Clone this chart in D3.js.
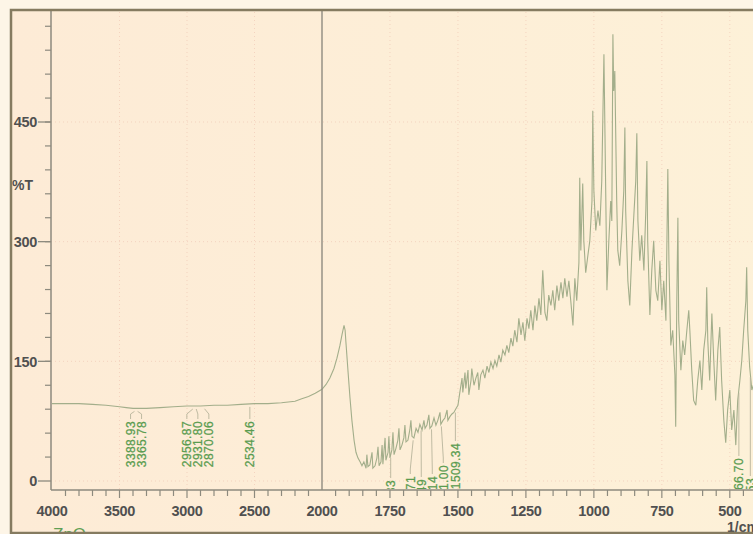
<!DOCTYPE html>
<html>
<head>
<meta charset="utf-8">
<script src="https://cdn.jsdelivr.net/npm/d3@7"></script>
<style>
  body { margin: 0; background: #fdf5e7; }
  svg { display: block; font-family: "Liberation Sans", Arial, sans-serif; }
</style>
</head>
<body>
<div id="chart"></div>
<script>
// FTIR spectrum of ZnO
// wavenumber (1/cm) and %T, same order
var wavenumber = [
  4000, 3900, 3800, 3700, 3600, 3500, 3450, 3400, 3350, 3300, 3200, 3100, 3000, 2900, 2800,
  2700, 2600, 2500, 2400, 2300, 2250, 2200, 2150, 2100, 2050, 2000,
  1985, 1971, 1956, 1945, 1934, 1926, 1919, 1915, 1912, 1904, 1897, 1890, 1882, 1875, 1868,
  1860, 1853, 1846, 1838, 1835, 1831, 1824, 1816, 1813, 1805, 1798, 1794, 1790, 1783, 1779,
  1776, 1768, 1765, 1757, 1754, 1750, 1743, 1739, 1735, 1728, 1721, 1717, 1713, 1706, 1699,
  1695, 1691, 1684, 1677, 1673, 1669, 1662, 1654, 1647, 1640, 1632, 1625, 1621, 1614, 1607,
  1603, 1596, 1588, 1581, 1574, 1566, 1563, 1555, 1548, 1540, 1537, 1529, 1522, 1515, 1507,
  1500, 1493, 1485, 1482, 1474, 1471, 1463, 1460, 1452, 1449, 1441, 1434, 1427, 1423, 1416,
  1408, 1401, 1393, 1386, 1379, 1371, 1364, 1357, 1349, 1342, 1335, 1327, 1320, 1313, 1305,
  1298, 1291, 1283, 1276, 1268, 1261, 1254, 1246, 1239, 1232, 1224, 1217, 1210, 1202, 1195,
  1188, 1180, 1173, 1166, 1158, 1151, 1144, 1136, 1129, 1121, 1114, 1107, 1099, 1092, 1085,
  1077, 1070, 1063, 1055, 1052, 1048, 1041, 1037, 1030, 1022, 1015, 1007, 1004, 1000, 993,
  985, 978, 971, 963, 956, 952, 945, 938, 934, 930, 927, 923, 916, 912, 905,
  897, 890, 886, 883, 875, 868, 860, 853, 846, 842, 838, 831, 824, 816, 809,
  805, 802, 794, 787, 780, 772, 765, 757, 750, 743, 735, 728, 724, 717, 710,
  702, 699, 695, 691, 688, 680, 673, 666, 658, 651, 647, 640, 633, 625, 618,
  610, 603, 596, 588, 585, 581, 574, 566, 559, 552, 544, 537, 530, 522, 515,
  508, 500, 493, 485, 478, 471, 463, 456, 449, 441, 438, 434, 427, 419, 408, 401
];
var transmittance = [
  97, 97, 97, 96, 95, 93, 92, 91, 91, 91, 92, 93, 94, 94, 95,
  95, 96, 97, 97, 98, 99, 100, 103, 106, 110, 115,
  121, 129, 141, 154, 170, 184, 195, 189, 174, 136, 104, 76, 51, 36, 29,
  24, 19, 24, 16, 33, 18, 20, 36, 16, 19, 29, 43, 19, 24, 45,
  21, 54, 26, 36, 56, 29, 39, 61, 33, 41, 51, 66, 39, 45, 54,
  70, 49, 51, 64, 76, 56, 54, 66, 61, 71, 64, 76, 66, 70, 83,
  66, 69, 79, 70, 76, 86, 71, 76, 79, 89, 76, 81, 84, 86, 91,
  95, 111, 129, 111, 136, 116, 139, 108, 126, 141, 120, 129, 136, 114, 133,
  139, 129, 144, 136, 149, 141, 151, 144, 158, 149, 164, 158, 170, 161, 179,
  169, 189, 174, 204, 183, 199, 176, 204, 191, 214, 189, 220, 201, 229, 208,
  264, 211, 201, 233, 220, 239, 214, 245, 226, 249, 229, 254, 231, 251, 226,
  195, 254, 226, 274, 380, 289, 373, 301, 261, 283, 301, 351, 464, 364, 314,
  339, 320, 376, 535, 351, 239, 301, 351, 326, 560, 489, 514, 351, 289, 270,
  314, 364, 443, 339, 251, 220, 289, 333, 376, 436, 326, 276, 308, 264, 339,
  401, 301, 208, 264, 301, 239, 226, 276, 214, 251, 201, 391, 276, 170, 189,
  133, 68, 226, 330, 201, 139, 176, 158, 189, 214, 189, 139, 101, 95, 126,
  151, 114, 164, 189, 243, 176, 126, 210, 151, 101, 164, 193, 126, 76, 48,
  89, 114, 64, 89, 45, 101, 126, 151, 189, 226, 268, 189, 143, 114, 126, 101
];
var peakLabels = [
  "3388.93", "3365.78", "2956.87", "2931.80", "2870.06", "2534.46",
  "1747.33", "1664.71", "1635.49", "1597.14", "1561.00", "1509.34",
  "466.70", "424.53"
];
var xTickValues = [4000, 3500, 3000, 2500, 2000, 1750, 1500, 1250, 1000, 750, 500];
var yTickValues = [0, 150, 300, 450];

var width = 753, height = 534;
var frame = { left: 11, top: 10, bottom: 533 };
var axisX = 51, axisY = 490;

var svg = d3.select("#chart").append("svg")
  .attr("width", width)
  .attr("height", height);

var defs = svg.append("defs");
var grad = defs.append("linearGradient").attr("id", "paper");
grad.append("stop").attr("offset", "0%").attr("stop-color", "#fdebd6");
grad.append("stop").attr("offset", "100%").attr("stop-color", "#fdf1d8");
defs.append("clipPath").attr("id", "plotClip")
  .append("rect")
  .attr("x", axisX + 1).attr("y", frame.top)
  .attr("width", width - axisX).attr("height", axisY - frame.top - 1);

// split axis: 4000-2000 compressed, 2000-400 expanded
var x = d3.scaleLinear()
  .domain([4000, 2000, 400])
  .range([52, 322, 757]);
var y = d3.scaleLinear()
  .domain([0, 450])
  .range([481, 122]);

svg.append("rect")
  .attr("x", frame.left).attr("y", frame.top)
  .attr("width", width + 20).attr("height", frame.bottom - frame.top)
  .attr("fill", "url(#paper)");

// faint dotted grid
var grid = svg.append("g")
  .attr("stroke", "#f1c9b6")
  .attr("stroke-dasharray", "1,3")
  .attr("stroke-width", 1)
  .attr("opacity", 0.7);
grid.selectAll("line.h")
  .data(yTickValues)
  .enter().append("line")
  .attr("x1", axisX).attr("x2", width)
  .attr("y1", d => y(d)).attr("y2", d => y(d));
grid.selectAll("line.v")
  .data(xTickValues.filter(d => d != 4000 && d != 2000))
  .enter().append("line")
  .attr("x1", d => x(d)).attr("x2", d => x(d))
  .attr("y1", frame.top + 2).attr("y2", axisY);

// spectrum
var spectrum = wavenumber.map((w, i) => [w, transmittance[i]]);
var line = d3.line().x(d => x(d[0])).y(d => y(d[1]));
var plot = svg.append("g").attr("clip-path", "url(#plotClip)");
plot.append("path")
  .datum(spectrum)
  .attr("fill", "none")
  .attr("stroke", "#a3ae8b")
  .attr("stroke-width", 1.1)
  .attr("d", line);

// value of spectrum at a wavenumber (linear between read points)
function valueAt(w) {
  for (var i = 1; i < spectrum.length; i++) {
    if (spectrum[i][0] <= w) {
      var a = spectrum[i - 1], b = spectrum[i];
      var t = (a[0] - w) / (a[0] - b[0]);
      return a[1] + t * (b[1] - a[1]);
    }
  }
  return spectrum[spectrum.length - 1][1];
}

// push crowded labels apart
function spread(xs, gap) {
  var p = xs.slice();
  for (var k = 0; k < 60; k++) {
    for (var i = 1; i < p.length; i++) {
      if (p[i] - p[i - 1] < gap) {
        var m = (p[i] + p[i - 1]) / 2;
        p[i - 1] = m - gap / 2;
        p[i] = m + gap / 2;
      }
    }
  }
  return p;
}

var labelTop = {
  "1747.33": 480, "1664.71": 476, "1635.49": 479, "1597.14": 476,
  "1561.00": 465, "1509.34": 443, "466.70": 458, "424.53": 478
};
var peaks = peakLabels.map(s => ({ text: s, w: +s }));
var px = spread(peaks.map(d => x(d.w)), 11);
peaks.forEach((d, i) => {
  d.lx = px[i];
  d.top = labelTop[d.text] || 421;
  d.py = y(valueAt(d.w)) + 3;
});

var labels = svg.append("g").attr("clip-path", "url(#plotClip)");
labels.selectAll("path")
  .data(peaks)
  .enter().append("path")
  .attr("fill", "none")
  .attr("stroke", "#b8b49c")
  .attr("stroke-width", 0.9)
  .attr("d", d => "M" + d.lx + "," + (d.top - 2) + "L" + d.lx + "," + Math.max(d.py + 2, d.top - 7) + "L" + x(d.w) + "," + d.py);
labels.selectAll("text")
  .data(peaks)
  .enter().append("text")
  .attr("transform", d => "translate(" + d.lx + "," + d.top + ") rotate(-90)")
  .attr("text-anchor", "end")
  .attr("dy", "0.36em")
  .attr("font-size", 12)
  .attr("letter-spacing", 0.4)
  .attr("fill", "#5a9c50")
  .attr("stroke", "#5a9c50")
  .attr("stroke-width", 0.25)
  .text(d => d.text);

// axes
var axisColor = "#8d8a7e";
svg.append("line")
  .attr("x1", axisX).attr("x2", axisX).attr("y1", frame.top).attr("y2", axisY)
  .attr("stroke", axisColor).attr("stroke-width", 1.5);
svg.append("line")
  .attr("x1", axisX).attr("x2", width).attr("y1", axisY).attr("y2", axisY)
  .attr("stroke", axisColor).attr("stroke-width", 1.5);
svg.append("line")
  .attr("x1", x(2000)).attr("x2", x(2000)).attr("y1", frame.top).attr("y2", axisY)
  .attr("stroke", "#8f8b80").attr("stroke-width", 1.4);

var xMinor = d3.range(3900, 2000, -100).concat(d3.range(1950, 399, -50));
svg.append("g").selectAll("line")
  .data(xMinor)
  .enter().append("line")
  .attr("x1", d => x(d)).attr("x2", d => x(d))
  .attr("y1", axisY).attr("y2", d => xTickValues.indexOf(d) >= 0 ? axisY + 8 : axisY + 6)
  .attr("stroke", axisColor).attr("stroke-width", 1.2);

var yMinor = d3.range(30, 600, 30).filter(d => y(d) > frame.top + 5);
svg.append("g").selectAll("line")
  .data(yMinor)
  .enter().append("line")
  .attr("x1", axisX - 6).attr("x2", axisX)
  .attr("y1", d => y(d)).attr("y2", d => y(d))
  .attr("stroke", axisColor).attr("stroke-width", 1.2);
svg.append("g").selectAll("line")
  .data(yTickValues)
  .enter().append("line")
  .attr("x1", axisX - 13).attr("x2", axisX)
  .attr("y1", d => y(d)).attr("y2", d => y(d))
  .attr("stroke", axisColor).attr("stroke-width", 1.3);

var tickFont = { size: 14.5, color: "#505050" };
svg.append("g").selectAll("text")
  .data(xTickValues)
  .enter().append("text")
  .attr("x", d => x(d))
  .attr("y", 516)
  .attr("text-anchor", "middle")
  .attr("font-size", tickFont.size)
  .attr("font-weight", "bold")
  .attr("letter-spacing", -0.3)
  .attr("fill", tickFont.color)
  .text(d => d);
svg.append("g").selectAll("text")
  .data(yTickValues)
  .enter().append("text")
  .attr("x", 37)
  .attr("y", d => y(d))
  .attr("dy", "0.36em")
  .attr("text-anchor", "end")
  .attr("font-size", tickFont.size)
  .attr("font-weight", "bold")
  .attr("letter-spacing", -0.3)
  .attr("fill", tickFont.color)
  .text(d => d);

svg.append("text")
  .attr("x", 12).attr("y", 190)
  .attr("font-size", 14).attr("font-weight", "bold")
  .attr("fill", tickFont.color)
  .text("%T");
svg.append("text")
  .attr("x", 727).attr("y", 532)
  .attr("font-size", 14).attr("font-weight", "bold")
  .attr("fill", tickFont.color)
  .text("1/cm");
svg.append("text")
  .attr("x", 53).attr("y", 540)
  .attr("font-size", 17)
  .attr("fill", "#5f9f55")
  .text("ZnO");

// scan frame
svg.append("rect")
  .attr("x", frame.left).attr("y", frame.top)
  .attr("width", width + 20).attr("height", frame.bottom - frame.top)
  .attr("fill", "none")
  .attr("stroke", "#857b60")
  .attr("stroke-width", 2.5);
</script>
</body>
</html>
